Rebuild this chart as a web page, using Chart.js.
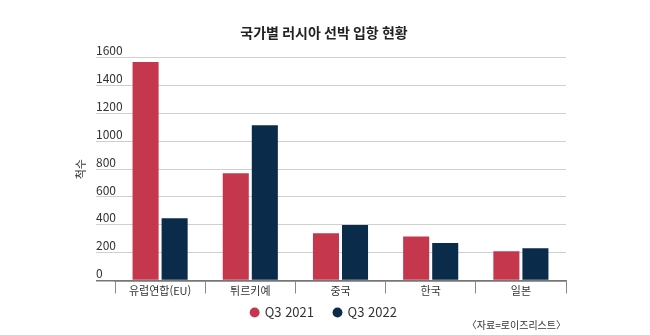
<!DOCTYPE html>
<html lang="ko">
<head>
<meta charset="utf-8">
<script src="https://cdn.jsdelivr.net/npm/chart.js@4.4.0/dist/chart.umd.min.js"></script>
<style>
  html, body { margin: 0; padding: 0; background: #fff; }
  #wrap { position: relative; width: 650px; height: 335px; }
</style>
</head>
<body>
<div id="wrap"><canvas id="shipChart" width="650" height="335"></canvas></div>
<script>
// 국가별 러시아 선박 입항 (척수)
const countries = ["유럽연합(EU)", "튀르키예", "중국", "한국", "일본"];
const q3_2021 = [1569, 770, 340, 316, 210];
const q3_2022 = [448, 1115, 398, 270, 232];
const yTicks = [0, 200, 400, 600, 800, 1000, 1200, 1400, 1600];

const RED = "#c5374d";
const NAVY = "#0b2b4a";
const FONT = "'Noto Sans CJK KR', 'Noto Sans', sans-serif";

Chart.defaults.font.family = FONT;
Chart.defaults.color = "#333";

const context = document.getElementById("shipChart").getContext("2d");
const shipChart = new Chart(context, {
  type: "bar",
  data: {
    labels: countries,
    datasets: [
      {
        label: "Q3 2021",
        data: q3_2021,
        backgroundColor: RED,
        categoryPercentage: 0.644,
        barPercentage: 0.897,
      },
      {
        label: "Q3 2022",
        data: q3_2022,
        backgroundColor: NAVY,
        categoryPercentage: 0.644,
        barPercentage: 0.897,
      },
    ],
  },
  options: {
    responsive: false,
    animation: false,
    layout: { padding: { left: 82, right: 84, top: 0, bottom: 0 } },
    plugins: {
      title: {
        display: true,
        text: "국가별 러시아 선박 입항 현황",
        color: "#222",
        font: { size: 14, weight: "bold" },
        padding: { top: 24, bottom: 17 },
      },
      subtitle: {
        display: true,
        text: "〈자료=로이즈리스트〉",
        position: "bottom",
        align: "end",
        color: "#333",
        font: { size: 10 },
        padding: { top: 0, bottom: 4 },
      },
      legend: {
        position: "bottom",
        maxHeight: 33,
        labels: {
          usePointStyle: true,
          pointStyle: "circle",
          boxWidth: 7,
          boxHeight: 7,
          padding: 20,
          color: "#333",
          font: { size: 13 },
        },
      },
      tooltip: { enabled: false },
    },
    scales: {
      x: {
        grid: {
          display: true,
          drawOnChartArea: false,
          drawTicks: true,
          tickLength: 13,
          offset: true,
          color: "#888",
        },
        border: { display: true, color: "#777", width: 1.5 },
        // labels sit between the divider ticks
        ticks: { mirror: true, padding: -16.6, color: "#333", font: { size: 11 } },
        afterFit: (scale) => { scale.height = 5.5; },
      },
      y: {
        min: 0,
        max: 1600,
        afterBuildTicks: (scale) => { scale.ticks = yTicks.map((v) => ({ value: v })); },
        grid: {
          color: (ctx) => (ctx.tick && ctx.tick.value === 0 ? "#777" : "#cfcfcf"),
          lineWidth: (ctx) => (ctx.tick && ctx.tick.value === 0 ? 1.5 : 1),
          drawTicks: true,
          tickLength: 19,
        },
        border: { display: false },
        ticks: {
          mirror: true,
          padding: -19,
          labelOffset: -7,
          color: "#333",
          font: { size: 12 },
          callback: (v) => String(v),
        },
        title: {
          display: true,
          text: "척수",
          color: "#333",
          font: { size: 11 },
          padding: { top: -7.6, bottom: 0 },
        },
        afterFit: (scale) => { scale.width = 33; },
      },
    },
  },
});
</script>
</body>
</html>
